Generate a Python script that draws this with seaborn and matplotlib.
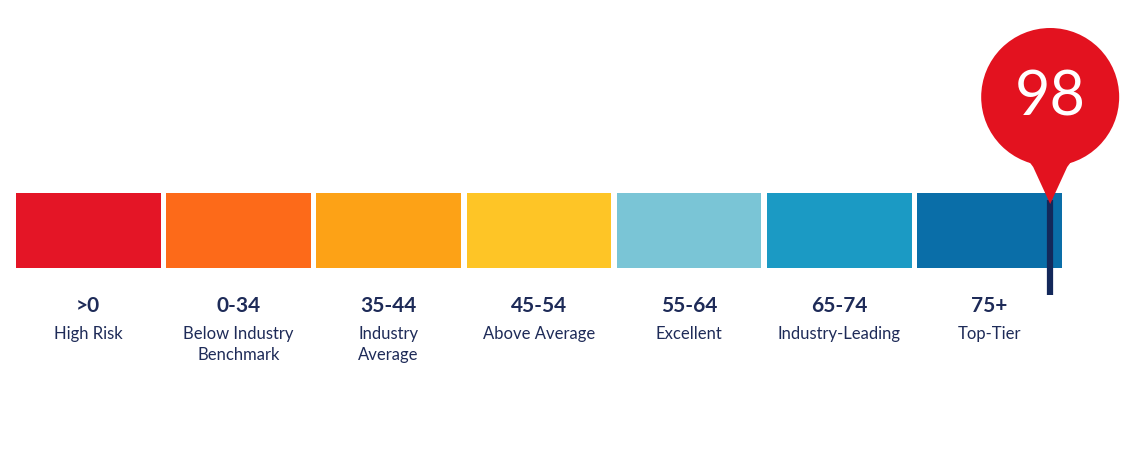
import matplotlib
matplotlib.use("Agg")
import matplotlib.pyplot as plt
import seaborn as sns
import pandas as pd
import numpy as np
from matplotlib.patches import Ellipse, Polygon

# ---- data ----
ranges = [">0", "0-34", "35-44", "45-54", "55-64", "65-74", "75+"]
descriptions = ["High Risk", "Below Industry\nBenchmark", "Industry\nAverage",
                "Above Average", "Excellent", "Industry-Leading", "Top-Tier"]
band_low = [0, 0, 35, 45, 55, 65, 75]
band_high = [0, 34, 44, 54, 64, 74, 100]
bar_height = [1, 1, 1, 1, 1, 1, 1]
colors = ["#e41526", "#fd6a19", "#fda216", "#fec526", "#7ac5d6", "#1b9ac4", "#0a6ea8"]
score = 98

sns.set_theme(style="white")
plt.rcParams["font.family"] = ["Lato", "DejaVu Sans"]

W, H = 1143, 450
fig = plt.figure(figsize=(W / 100, H / 100), dpi=100)
ax = fig.add_axes([0, 0, 1, 1])
fig.patch.set_facecolor("white")
ax.set_facecolor("white")

df = pd.DataFrame({"range": ranges, "h": bar_height, "desc": descriptions})
bw = 0.962
sns.barplot(data=df, x="range", y="h", hue="range", palette=colors,
            legend=False, width=bw, saturation=1, ax=ax, linewidth=0)

# pixel mapping helpers
pitch = 150.2
x0pix = 88.3
ax.set_xlim(-x0pix / pitch, (W - x0pix) / pitch)
ytop_pix, ybot_pix = 193, 268
ys = ybot_pix - ytop_pix
ax.set_ylim(-(H - ybot_pix) / ys, 1 + ytop_pix / ys)

def py(p):
    return (ybot_pix - p) / ys

def pxw(p):
    return p / pitch

def pyh(p):
    return p / ys

navy = "#1e2b58"
for i, (r, d) in enumerate(zip(ranges, descriptions)):
    ax.text(i, py(306), r, ha="center", va="center", fontsize=15,
            fontweight="bold", color=navy)
    if "\n" in d:
        ax.text(i, py(344.5), d, ha="center", va="center",
                fontsize=12, color=navy, linespacing=1.4)
    else:
        ax.text(i, py(334), d, ha="center", va="center",
                fontsize=12, color=navy)

# score position within its band
idx = max(i for i in range(len(band_low)) if score >= band_low[i])
frac = (score - band_low[idx]) / (band_high[idx] - band_low[idx])
sx = idx - bw / 2 + bw * frac

ax.vlines(sx, py(295), py(200), color="#13285a", linewidth=4.5, zorder=5)

pin_red = "#e3121f"
cy = 97
r = 69
ax.add_patch(Ellipse((sx, py(cy)), pxw(2 * r), pyh(2 * r), color=pin_red,
                     zorder=6, linewidth=0))

# tail: small fillet at the circle, then straight sides to the tip
half = [(34, 150), (26, 158), (20, 163), (17, 167), (0, 204)]
left = [(sx - pxw(x), py(y)) for x, y in half]
right = [(sx + pxw(x), py(y)) for x, y in half[::-1][1:]]
ax.add_patch(Polygon([(sx, py(cy))] + left + right, closed=True,
                     color=pin_red, zorder=6, linewidth=0))
ax.text(sx, py(cy + 1), str(score), ha="center", va="center", fontsize=44,
        color="white", zorder=7)

ax.set_axis_off()
fig.savefig("out.png", dpi=100, facecolor="white")
